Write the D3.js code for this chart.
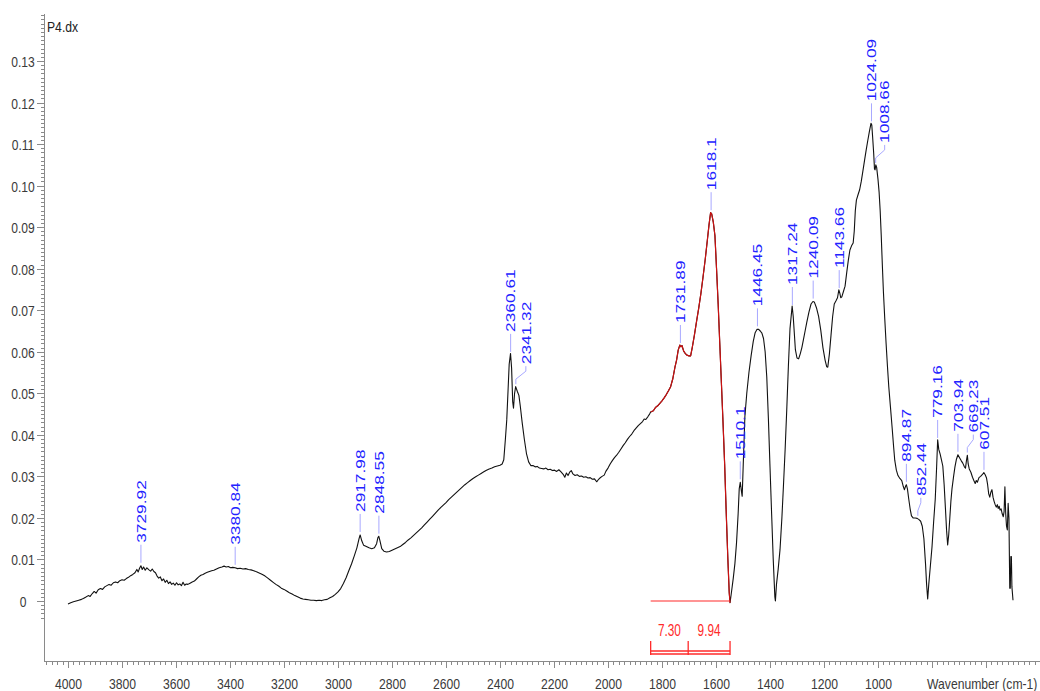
<!DOCTYPE html>
<html>
<head>
<meta charset="utf-8">
<script src="https://cdn.jsdelivr.net/npm/d3@7"></script>
<style>
  html, body { margin: 0; padding: 0; background: #fff; }
  svg { display: block; font-family: "Liberation Sans", Arial, sans-serif; }
</style>
</head>
<body>
<svg id="chart" width="1040" height="691"></svg>
<script>
// ---- IR spectrum of sample P4 : [wavenumber (cm-1), absorbance] ----
const spectrum = [
  [4000,-0.0007],[3990,-0.0004],[3980,-0.0002],[3970,0.0000],[3960,0.0002],[3950,0.0004],
  [3943,0.0006],[3935,0.0009],[3925,0.0013],[3918,0.0011],[3910,0.0018],[3903,0.0023],
  [3896,0.0019],[3888,0.0027],[3880,0.0030],[3872,0.0028],[3864,0.0034],[3856,0.0037],
  [3848,0.0040],[3840,0.0038],[3832,0.0044],[3824,0.0046],[3816,0.0044],[3808,0.0049],
  [3800,0.0051],[3792,0.0050],[3784,0.0054],[3776,0.0057],[3768,0.0061],[3760,0.0064],
  [3752,0.0068],[3745,0.0076],[3740,0.0070],[3735,0.0079],[3730,0.0085],[3725,0.0076],
  [3720,0.0082],[3714,0.0074],[3708,0.0080],[3700,0.0075],[3694,0.0072],[3688,0.0077],
  [3682,0.0071],[3676,0.0068],[3670,0.0060],[3664,0.0055],[3658,0.0058],[3652,0.0049],
  [3646,0.0053],[3640,0.0045],[3634,0.0050],[3628,0.0042],[3622,0.0046],[3616,0.0040],
  [3610,0.0043],[3604,0.0038],[3598,0.0044],[3592,0.0039],[3586,0.0041],[3580,0.0037],
  [3574,0.0045],[3568,0.0038],[3562,0.0041],[3556,0.0040],[3548,0.0043],[3540,0.0046],
  [3532,0.0048],[3524,0.0053],[3516,0.0058],[3508,0.0062],[3500,0.0064],[3492,0.0067],
  [3484,0.0069],[3476,0.0071],[3468,0.0073],[3460,0.0074],[3450,0.0077],[3440,0.0080],
  [3430,0.0082],[3422,0.0084],[3414,0.0082],[3406,0.0083],[3398,0.0080],[3390,0.0081],
  [3381,0.0080],[3372,0.0078],[3362,0.0079],[3352,0.0077],[3342,0.0078],[3332,0.0076],
  [3322,0.0075],[3312,0.0073],[3300,0.0070],[3290,0.0067],[3280,0.0064],[3270,0.0060],
  [3260,0.0055],[3250,0.0050],[3240,0.0045],[3230,0.0040],[3220,0.0036],[3210,0.0031],
  [3200,0.0028],[3190,0.0024],[3180,0.0020],[3170,0.0017],[3160,0.0013],[3150,0.0010],
  [3140,0.0007],[3130,0.0005],[3120,0.0004],[3110,0.0003],[3100,0.0002],[3090,0.0002],
  [3080,0.0001],[3070,0.0002],[3060,0.0001],[3050,0.0003],[3040,0.0004],[3030,0.0008],
  [3020,0.0011],[3010,0.0016],[3000,0.0022],[2990,0.0030],[2980,0.0042],[2970,0.0056],
  [2960,0.0073],[2950,0.0089],[2940,0.0108],[2930,0.0128],[2922,0.0150],[2918,0.0159],
  [2912,0.0145],[2905,0.0134],[2895,0.0131],[2885,0.0128],[2875,0.0126],[2865,0.0128],
  [2857,0.0138],[2852,0.0153],[2849,0.0156],[2845,0.0146],[2838,0.0126],[2830,0.0120],
  [2820,0.0118],[2810,0.0119],[2800,0.0122],[2790,0.0125],[2780,0.0128],[2770,0.0131],
  [2760,0.0136],[2750,0.0141],[2740,0.0147],[2730,0.0152],[2720,0.0158],[2710,0.0164],
  [2700,0.0170],[2690,0.0176],[2680,0.0183],[2670,0.0190],[2660,0.0197],[2650,0.0204],
  [2640,0.0211],[2630,0.0218],[2620,0.0225],[2610,0.0231],[2600,0.0237],[2590,0.0244],
  [2580,0.0250],[2570,0.0256],[2560,0.0262],[2550,0.0268],[2540,0.0274],[2530,0.0280],
  [2520,0.0285],[2510,0.0290],[2500,0.0295],[2490,0.0299],[2480,0.0303],[2470,0.0307],
  [2460,0.0311],[2450,0.0315],[2440,0.0318],[2430,0.0320],[2420,0.0323],[2410,0.0325],
  [2400,0.0327],[2392,0.0330],[2386,0.0340],[2380,0.0390],[2375,0.0436],[2370,0.0510],
  [2366,0.0570],[2361,0.0596],[2357,0.0560],[2353,0.0480],[2350,0.0464],[2346,0.0500],
  [2342,0.0516],[2336,0.0505],[2330,0.0495],[2325,0.0470],[2318,0.0430],[2310,0.0390],
  [2302,0.0355],[2294,0.0335],[2286,0.0326],[2278,0.0326],[2270,0.0323],[2262,0.0324],
  [2254,0.0320],[2246,0.0319],[2238,0.0318],[2230,0.0320],[2222,0.0316],[2214,0.0317],
  [2206,0.0314],[2198,0.0315],[2190,0.0312],[2182,0.0316],[2174,0.0311],[2166,0.0305],
  [2160,0.0298],[2154,0.0308],[2148,0.0302],[2142,0.0310],[2136,0.0314],[2130,0.0306],
  [2122,0.0302],[2114,0.0304],[2106,0.0300],[2098,0.0301],[2090,0.0298],[2082,0.0299],
  [2074,0.0296],[2066,0.0297],[2058,0.0293],[2050,0.0294],[2042,0.0287],[2036,0.0292],
  [2030,0.0296],[2022,0.0300],[2014,0.0303],[2008,0.0312],[2000,0.0320],[1992,0.0330],
  [1984,0.0338],[1976,0.0345],[1968,0.0351],[1960,0.0358],[1952,0.0366],[1944,0.0374],
  [1936,0.0381],[1928,0.0389],[1920,0.0396],[1912,0.0402],[1904,0.0410],[1896,0.0416],
  [1888,0.0422],[1880,0.0427],[1872,0.0432],[1866,0.0438],[1860,0.0437],[1852,0.0444],
  [1846,0.0450],[1842,0.0455],[1832,0.0458],[1824,0.0466],[1816,0.0470],[1808,0.0476],
  [1800,0.0482],[1792,0.0489],[1784,0.0497],[1776,0.0506],[1768,0.0516],[1760,0.0535],
  [1752,0.0563],[1746,0.0580],[1740,0.0604],[1734,0.0616],[1730,0.0612],[1726,0.0615],
  [1720,0.0602],[1714,0.0596],[1708,0.0592],[1700,0.0590],[1694,0.0590],[1688,0.0610],
  [1680,0.0640],[1672,0.0673],[1664,0.0705],[1656,0.0740],[1648,0.0780],[1640,0.0822],
  [1632,0.0869],[1626,0.0905],[1620,0.0935],[1616,0.0932],[1610,0.0912],[1604,0.0880],
  [1598,0.0800],[1592,0.0715],[1586,0.0620],[1580,0.0525],[1574,0.0430],[1568,0.0330],
  [1562,0.0210],[1556,0.0100],[1551,0.0020],[1548,-0.0004],[1544,0.0015],[1540,0.0035],
  [1536,0.0055],[1530,0.0090],[1524,0.0140],[1518,0.0210],[1514,0.0270],[1510,0.0286],
  [1506,0.0265],[1503,0.0252],[1498,0.0350],[1493,0.0444],[1486,0.0500],[1478,0.0550],
  [1470,0.0590],[1462,0.0625],[1455,0.0646],[1448,0.0654],[1442,0.0654],[1436,0.0650],
  [1430,0.0645],[1424,0.0632],[1418,0.0600],[1412,0.0540],[1406,0.0440],[1400,0.0323],
  [1394,0.0210],[1388,0.0100],[1382,0.0010],[1380,0.0000],[1376,0.0040],[1370,0.0075],
  [1363,0.0123],[1356,0.0200],[1350,0.0280],[1344,0.0364],[1338,0.0460],[1332,0.0564],
  [1326,0.0655],[1318,0.0710],[1314,0.0685],[1310,0.0645],[1306,0.0605],[1300,0.0585],
  [1294,0.0583],[1288,0.0595],[1282,0.0610],[1276,0.0630],[1270,0.0650],[1264,0.0670],
  [1256,0.0695],[1248,0.0715],[1241,0.0721],[1236,0.0720],[1228,0.0706],[1220,0.0685],
  [1212,0.0652],[1204,0.0610],[1196,0.0580],[1190,0.0564],[1186,0.0563],[1180,0.0595],
  [1174,0.0640],[1168,0.0685],[1162,0.0715],[1156,0.0722],[1150,0.0730],[1145,0.0749],
  [1141,0.0740],[1138,0.0730],[1134,0.0732],[1128,0.0745],[1122,0.0758],[1116,0.0790],
  [1110,0.0820],[1104,0.0845],[1098,0.0855],[1092,0.0862],[1088,0.0890],[1084,0.0940],
  [1080,0.0965],[1074,0.0978],[1068,0.0990],[1062,0.1010],[1056,0.1035],[1050,0.1060],
  [1044,0.1085],[1038,0.1108],[1032,0.1130],[1026,0.1150],[1023,0.1146],[1020,0.1118],
  [1016,0.1078],[1013,0.1040],[1011,0.1038],[1008,0.1050],[1005,0.1044],[1000,0.1015],
  [996,0.0985],[992,0.0940],[988,0.0880],[984,0.0810],[980,0.0745],[975,0.0680],
  [970,0.0620],[965,0.0565],[960,0.0515],[954,0.0468],[948,0.0420],[942,0.0370],
  [938,0.0339],[932,0.0315],[926,0.0302],[919,0.0295],[912,0.0290],[906,0.0275],
  [902,0.0268],[898,0.0276],[895,0.0280],[891,0.0270],[886,0.0245],[881,0.0222],
  [876,0.0205],[870,0.0200],[862,0.0200],[855,0.0199],[848,0.0196],[842,0.0192],
  [836,0.0180],[830,0.0150],[824,0.0090],[820,0.0040],[816,0.0005],[812,0.0040],
  [806,0.0085],[800,0.0130],[794,0.0190],[788,0.0245],[783,0.0320],[779,0.0388],
  [775,0.0365],[770,0.0354],[765,0.0340],[760,0.0325],[755,0.0280],[750,0.0220],
  [746,0.0170],[742,0.0135],[738,0.0160],[734,0.0200],[730,0.0240],[726,0.0270],
  [720,0.0300],[715,0.0323],[710,0.0340],[704,0.0352],[698,0.0345],[692,0.0338],
  [686,0.0332],[680,0.0323],[676,0.0320],[672,0.0340],[669,0.0351],[666,0.0330],
  [662,0.0318],[656,0.0310],[650,0.0298],[645,0.0290],[640,0.0283],[636,0.0290],
  [632,0.0286],[626,0.0297],[620,0.0300],[614,0.0304],[608,0.0309],[603,0.0304],
  [598,0.0296],[594,0.0280],[590,0.0258],[586,0.0250],[582,0.0262],[578,0.0268],
  [574,0.0250],[570,0.0240],[566,0.0232],[562,0.0226],[558,0.0232],[555,0.0223],
  [551,0.0228],[548,0.0219],[544,0.0222],[540,0.0210],[536,0.0203],[533,0.0215],
  [530,0.0275],[527,0.0210],[524,0.0180],[521,0.0171],[518,0.0235],[515,0.0200],
  [512,0.0031],[510,0.0031],[508,0.0107],[506,0.0107],[504,0.0034],[500,0.0002]
];

// Picked peaks
const peakWavenumbers = [3729.92, 3380.84, 2917.98, 2848.55, 2360.61, 2341.32, 1731.89, 1618.1,
  1510.1, 1446.45, 1317.24, 1240.09, 1143.66, 1024.09, 1008.66, 894.87, 852.44, 779.16,
  703.94, 669.23, 607.51];
const peakLabels = ["3729.92", "3380.84", "2917.98", "2848.55", "2360.61", "2341.32", "1731.89",
  "1618.1", "1510.1", "1446.45", "1317.24", "1240.09", "1143.66", "1024.09", "1008.66",
  "894.87", "852.44", "779.16", "703.94", "669.23", "607.51"];

// Integration regions (cm-1) and their integral values
const integralBounds = [1842, 1703, 1548];
const integralValues = ["7.30", "9.94"];

// Axis ticks
const xTickValues = [4000, 3800, 3600, 3400, 3200, 3000, 2800, 2600, 2400, 2200, 2000, 1800, 1600, 1400, 1200, 1000];
const yTickValues = [0, 0.01, 0.02, 0.03, 0.04, 0.05, 0.06, 0.07, 0.08, 0.09, 0.10, 0.11, 0.12, 0.13];
const yTickLabels = ["0", "0.01", "0.02", "0.03", "0.04", "0.05", "0.06", "0.07", "0.08", "0.09", "0.10", "0.11", "0.12", "0.13"];

// ---- layout ----
const svg = d3.select("#chart");
const axisColor = "#8a8a8a";
const textColor = "#3a3a3a";
const peakBlue = "#2222ff";
const leaderBlue = "#a8a8ff";
const curveRed = "#cc1111";
const integralRed = "#ff2a2a";

const x = d3.scaleLinear().domain([4088.9, 400]).range([44, 1040]);
const y = d3.scaleLinear().domain([-0.01444, 0.14155]).range([661, 13]);

// ---- axes ----
const xAxisY = 661;
const xMinor = d3.range(4080, 400, -20);
const xMajor = d3.range(4000, 500, -200);

svg.append("g").attr("transform", `translate(0,${xAxisY})`)
  .call(d3.axisBottom(x).tickValues(xMinor).tickSize(4).tickSizeOuter(0).tickFormat(""));
const gxMajor = svg.append("g").attr("transform", `translate(0,${xAxisY})`)
  .call(d3.axisBottom(x).tickValues(xMajor).tickSize(7).tickSizeOuter(0)
    .tickFormat(d => xTickValues.includes(d) ? String(d) : ""));
gxMajor.select(".domain").remove();
gxMajor.selectAll("text")
  .attr("y", 0).attr("dy", null)
  .attr("transform", "translate(0,28) scale(0.84,1)")
  .attr("font-size", 14.5).attr("fill", textColor);

const yMinor = d3.range(-0.004, 0.1415, 0.001).map(v => +v.toFixed(3));
svg.append("g").attr("transform", "translate(44,0)")
  .call(d3.axisLeft(y).tickValues(yMinor).tickSize(3).tickSizeOuter(0).tickFormat(""));
const gyMajor = svg.append("g").attr("transform", "translate(44,0)")
  .call(d3.axisLeft(y).tickValues(yTickValues).tickSize(7).tickSizeOuter(0)
    .tickFormat((d, i) => yTickLabels[i]));
gyMajor.select(".domain").remove();
gyMajor.selectAll("text")
  .attr("x", 0).attr("dy", null).attr("text-anchor", "middle")
  .attr("transform", "translate(-21,5.5) scale(0.78,1)")
  .attr("font-size", 15.5).attr("fill", textColor);

svg.selectAll(".domain, .tick line").attr("stroke", axisColor).attr("stroke-width", 1);
svg.selectAll(".tick line, .domain").attr("shape-rendering", "crispEdges");

// axis titles
svg.append("text").text("P4.dx")
  .attr("transform", "translate(47,32) scale(0.84,1)")
  .attr("font-size", 14.5).attr("fill", "#222");
svg.append("text").text("Wavenumber (cm-1)")
  .attr("transform", "translate(927,689) scale(0.84,1)")
  .attr("font-size", 14.5).attr("fill", textColor);

// ---- spectrum ----
const line = d3.line().x(d => x(d[0])).y(d => y(d[1]));
svg.append("path").datum(spectrum)
  .attr("d", line).attr("fill", "none")
  .attr("stroke", "#111").attr("stroke-width", 1.1).attr("stroke-linejoin", "round");

// integrated stretch drawn in red
const hi = integralBounds[0], lo = integralBounds[integralBounds.length - 1];
svg.append("path").datum(spectrum.filter(d => d[0] <= hi && d[0] >= lo))
  .attr("d", line).attr("fill", "none")
  .attr("stroke", curveRed).attr("stroke-width", 1.2).attr("stroke-linejoin", "round");

// integration baseline
svg.append("line")
  .attr("x1", x(hi)).attr("x2", x(lo)).attr("y1", y(0)).attr("y2", y(0))
  .attr("stroke", integralRed).attr("stroke-width", 1.2);

// integration bracket and values
const bracket = svg.append("g").attr("stroke", integralRed).attr("stroke-width", 1.3);
[651, 654].forEach(by => bracket.append("line")
  .attr("x1", x(hi)).attr("x2", x(lo)).attr("y1", by).attr("y2", by));
integralBounds.forEach(b => bracket.append("line")
  .attr("x1", x(b)).attr("x2", x(b)).attr("y1", 641).attr("y2", 655));
integralValues.forEach((v, i) => {
  const cx = (x(integralBounds[i]) + x(integralBounds[i + 1])) / 2;
  svg.append("text").text(v)
    .attr("text-anchor", "middle")
    .attr("transform", `translate(${cx},635.5) scale(0.74,1)`)
    .attr("font-size", 16).attr("fill", integralRed);
});

// ---- peak labels ----
function absorbanceAt(w) {
  for (let i = 0; i < spectrum.length - 1; i++) {
    const a = spectrum[i], b = spectrum[i + 1];
    if (w <= a[0] && w >= b[0]) {
      const t = (a[0] - w) / (a[0] - b[0]);
      return a[1] + t * (b[1] - a[1]);
    }
  }
  return 0;
}
// sideways shift (px) for labels moved off a neighbouring peak
const labelShift = { "2341.32": 10, "1008.66": 9, "852.44": 3, "669.23": 6 };

const peaks = svg.append("g");
peakWavenumbers.forEach((w, i) => {
  const px = x(w), py = y(absorbanceAt(w));
  const dx = labelShift[peakLabels[i]] || 0;
  const path = dx
    ? `M${px},${py - 3}V${py - 8}L${px + dx},${py - 16}V${py - 21}`
    : `M${px},${py - 3}V${py - 21}`;
  peaks.append("path").attr("d", path)
    .attr("fill", "none").attr("stroke", leaderBlue).attr("stroke-width", 1);
  peaks.append("text").text(peakLabels[i])
    .attr("transform", `translate(${px + dx},${py - 23}) scale(0.76,1) rotate(-90)`)
    .attr("dy", "0.36em")
    .attr("font-size", 17.3).attr("fill", peakBlue);
});
</script>
</body>
</html>
